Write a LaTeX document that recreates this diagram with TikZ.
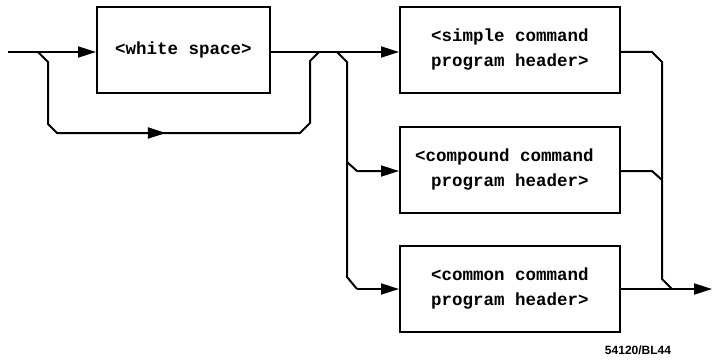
\documentclass[tikz,border=0pt]{standalone}
\usepackage{fontspec}
\setmonofont{Liberation Mono}
\newfontfamily\labfont{Liberation Sans}
\usetikzlibrary{arrows.meta,decorations.markings}
\tikzset{
  box/.style={draw,line width=2pt,minimum width=#1,minimum height=86pt,inner sep=0pt,
     font=\ttfamily\bfseries\fontsize{17.5}{25}\selectfont,align=center},
  wire/.style={line width=2pt},
  tip/.style={-{Triangle[length=18pt,width=11pt]}},
  midarrow/.style={postaction={decorate},decoration={markings,
     mark=at position #1 with {\arrow{Triangle[length=18pt,width=11pt]}}}}
}
\begin{document}
\begin{tikzpicture}[x=1pt,y=-1pt]
\useasboundingbox (0,0) rectangle (717,361);
\node[box=173pt] (ws) at (183.5,50) {<white space>};
\node[box=220pt] (sim) at (510,50) {<simple command\\program header>};
\node[box=220pt] (cmp) at (510,170) {\hspace*{-11pt}<compound command\\program header>};
\node[box=220pt] (com) at (510,289) {<common command\\program header>};
\node[font=\labfont\bfseries\fontsize{12}{14}\selectfont] (lab) at (638,350) {54120/BL44};
\coordinate (in) at (8,52);
\coordinate (out) at (712,289);
% entry
\draw[wire,tip] (in) -- (ws.west |- in);
% bypass
\draw[wire,midarrow=0.47] (38,52) -- (48,62) -- (48,124) -- (57,133) -- (300,133) -- (310,123) -- (310,61) -- (319,52);
% main to simple
\draw[wire,tip] (ws.east |- in) -- (sim.west |- in);
% left branches
\draw[wire] (337,52) -- (347,62) -- (347,277) -- (357,289);
\draw[wire,tip] (347,162) -- (357,171) -- (cmp.west |- 0,171);
\draw[wire,tip] (357,289) -- (com.west);
% right merges
\draw[wire] (sim.east |- in) -- (652,52) -- (662,62) -- (662,279) -- (672,289);
\draw[wire] (cmp.east |- 0,171) -- (652,171) -- (662,180);
\draw[wire,tip] (com.east) -- (out);
\end{tikzpicture}
\end{document}
